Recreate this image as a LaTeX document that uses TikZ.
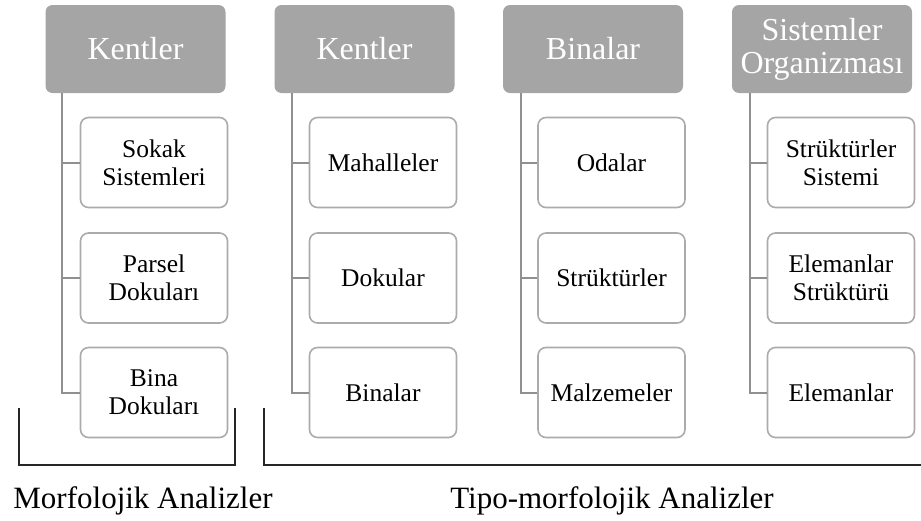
\documentclass[tikz,border=0pt]{standalone}
\usepackage{fontspec}
\setmainfont{Liberation Serif}
\definecolor{hdrfill}{HTML}{A5A5A5}
\definecolor{boxline}{HTML}{ABABAB}
\definecolor{trunk}{HTML}{909090}
\definecolor{brk}{HTML}{262626}
\begin{document}
\begin{tikzpicture}[x=1pt,y=-1pt,
  hdr/.style={draw=none,fill=hdrfill,rounded corners=7pt,minimum width=180pt,minimum height=88pt,
    text=white,align=center,inner sep=0pt,font=\fontsize{32}{33}\selectfont},
  child/.style={draw=boxline,line width=1.6pt,fill=white,rounded corners=8pt,minimum width=147pt,minimum height=90pt,
    align=center,inner sep=0pt,font=\fontsize{25.5}{28}\selectfont},
  tree/.style={draw=trunk,line width=2pt},
  bracket/.style={draw=brk,line width=1.6pt},
  lbl/.style={font=\fontsize{31}{33}\selectfont,inner sep=0pt}]
\useasboundingbox (0,0) rectangle (921,520);
% column 1
\node[hdr] (h1) at (135.5,49) {Kentler};
\node[child] (a1) at (154,162.5) {Sokak\\Sistemleri};
\node[child] (a2) at (154,278) {Parsel\\Dokuları};
\node[child] (a3) at (154,392.5) {Bina\\Dokuları};
% column 2
\node[hdr] (h2) at (364.5,49) {Kentler};
\node[child] (b1) at (383,162.5) {Mahalleler};
\node[child] (b2) at (383,278) {Dokular};
\node[child] (b3) at (383,392.5) {Binalar};
% column 3
\node[hdr] (h3) at (593,49) {Binalar};
\node[child] (c1) at (611.5,162.5) {Odalar};
\node[child] (c2) at (611.5,278) {Strüktürler};
\node[child] (c3) at (611.5,392.5) {Malzemeler};
% column 4
\node[hdr] (h4) at (822,49) {Sistemler\\Organizması};
\node[child] (d1) at (841,162.5) {Strüktürler\\Sistemi};
\node[child] (d2) at (841,278) {Elemanlar\\Strüktürü};
\node[child] (d3) at (841,392.5) {Elemanlar};
% trees
\foreach \h/\x/\p/\q/\r in {h1/62/a1/a2/a3, h2/292/b1/b2/b3, h3/521/c1/c2/c3, h4/750/d1/d2/d3}{
  \draw[tree] (\x,0 |- \h.south) -- (\x,0 |- \r.west) -- (\r.west);
  \draw[tree] (\x,0 |- \p.west) -- (\p.west);
  \draw[tree] (\x,0 |- \q.west) -- (\q.west);
}
% brackets
\coordinate (L1) at (19,408);
\coordinate (L2) at (19,465);
\coordinate (L3) at (235,465);
\coordinate (L4) at (235,408);
\draw[bracket] (L1) -- (L2) -- (L3) -- (L4);
\coordinate (R1) at (264,408);
\coordinate (R2) at (264,465);
\coordinate (R3) at (921,465);
\draw[bracket] (R1) -- (R2) -- (R3);
\node[lbl,anchor=base] (m1) at (143,508) {Morfolojik Analizler};
\node[lbl,anchor=base] (m2) at (612,508) {Tipo-morfolojik Analizler};
\end{tikzpicture}
\end{document}
